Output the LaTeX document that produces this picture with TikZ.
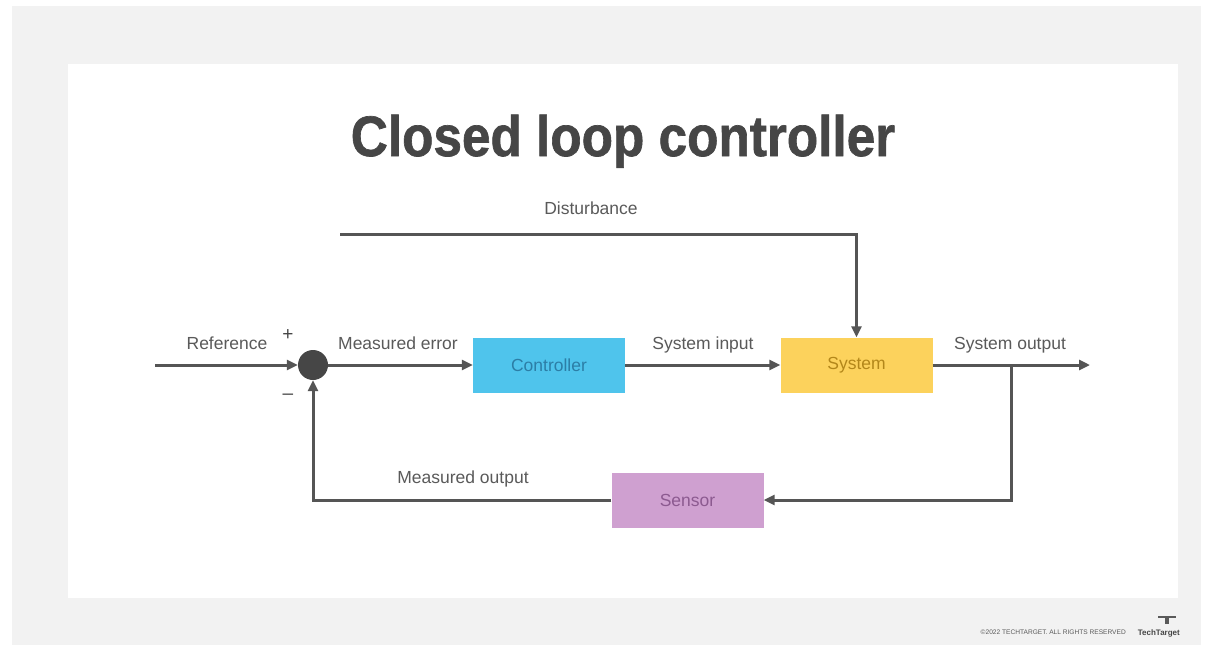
\documentclass[tikz,border=0pt]{standalone}
\usepackage{fontspec}
\usepackage{graphicx}
\setmainfont{Liberation Sans}
\newfontfamily\titlefont[FakeBold=1.2]{Liberation Sans Bold}
\usetikzlibrary{arrows.meta}
\definecolor{bgray}{HTML}{F2F2F2}
\definecolor{lineg}{HTML}{555555}
\definecolor{txtg}{HTML}{5A5A5A}
\definecolor{titleg}{HTML}{464646}
\definecolor{ctrlc}{HTML}{4FC4EC}
\definecolor{ctrlt}{HTML}{2C7EA6}
\definecolor{sysc}{HTML}{FCD25C}
\definecolor{syst}{HTML}{B3871A}
\definecolor{sensc}{HTML}{CFA0D0}
\definecolor{senst}{HTML}{8C5A90}
\tikzset{
  conn/.style={draw=lineg, line width=3pt, -{Triangle[length=11pt,width=10pt]}},
  blk/.style={rectangle, minimum width=152pt, minimum height=55pt, inner sep=0pt,
    font=\fontsize{17.5}{19}\selectfont},
  lbl/.style={anchor=base, text=txtg, inner sep=0pt, font=\fontsize{17.5}{19}\selectfont},
  sumnode/.style={circle, fill=titleg, minimum size=30pt, inner sep=0pt},
  sign/.style={text=titleg, inner sep=0pt, font=\fontsize{19}{21}\selectfont},
}
\begin{document}
\begin{tikzpicture}[x=1pt,y=-1pt]
\useasboundingbox (0,0) rectangle (1213,651);
\fill[white] (0,0) rectangle (1213,651);
\fill[bgray] (12,6) rectangle (1201,645);
\fill[white] (68,64) rectangle (1178,598);
% title
\node[anchor=base, inner sep=0pt, text=titleg] (title) at (623,156)
  {\scalebox{0.9}[1]{\fontsize{57}{60}\selectfont\titlefont Closed loop controller}};
% blocks
\node[sumnode] (sum) at (313,365) {};
\node[blk, fill=ctrlc, text=ctrlt] (ctrl) at (549,365) {Controller};
\node[blk, fill=sysc, text=syst] (sys) at (856.5,365) {System};
\node[blk, fill=sensc, text=senst] (sens) at (687.5,500) {Sensor};
\coordinate (refin) at (155,365);
\coordinate (out) at (1090,365);
\coordinate (br) at (1011,365);
\coordinate (dist) at (340,234);
% connectors
\draw[conn] (refin) -- (sum.west);
\draw[conn] (sum.east) -- (ctrl.west);
\draw[conn] (ctrl.east) -- (sys.west);
\draw[conn] (sys.east) -- (out);
\draw[conn] (br) |- (sens.east);
\draw[conn] (sens.west) -| (sum.south);
\draw[conn] (dist) -| (sys.north);
% labels
\node[lbl] (lref) at (227,349) {Reference};
\node[lbl] (lerr) at (398,349) {Measured error};
\node[lbl] (lin) at (703,349) {System input};
\node[lbl] (lout) at (1010,349) {System output};
\node[lbl] (lmeas) at (463,483) {Measured output};
\node[lbl] (ldist) at (591,214) {Disturbance};
\node[sign] (plus) at (288,335) {+};
\node[sign] (minus) at (288,397) {\textendash};
% footer
\node[anchor=base east, inner sep=0pt, text=txtg, font=\fontsize{6.6}{8}\selectfont] (copy) at (1126,634)
  {\textcopyright2022 TECHTARGET. ALL RIGHTS RESERVED};
\node[anchor=base east, inner sep=0pt, text=titleg, font=\fontsize{8}{9}\selectfont\bfseries] (tt) at (1180,635) {TechTarget};
\fill[txtg] (1158,616) rectangle (1176,618);
\fill[txtg] (1165,618) rectangle (1169,624);
\end{tikzpicture}
\end{document}
